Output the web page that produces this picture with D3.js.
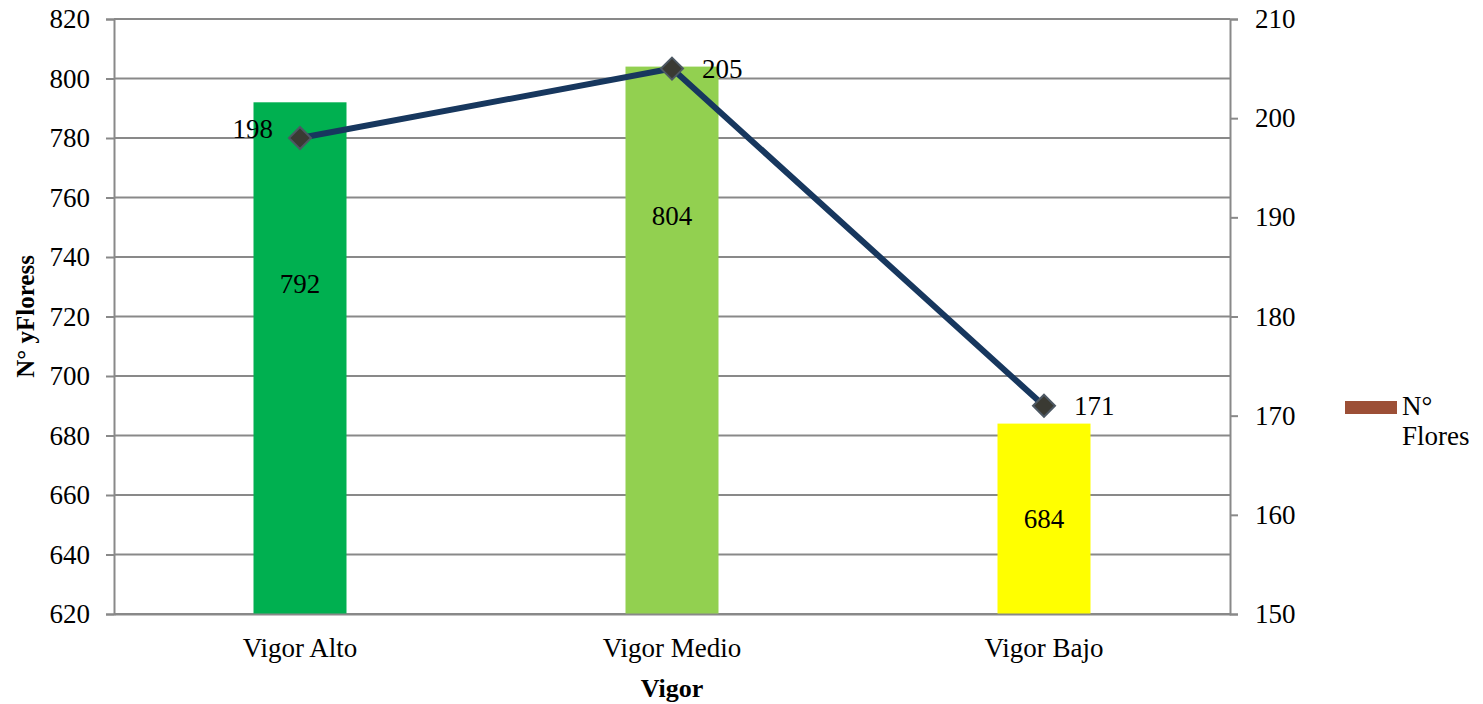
<!DOCTYPE html>
<html><head><meta charset="utf-8">
<script src="https://cdn.jsdelivr.net/npm/d3@7"></script>
<style>body{margin:0;background:#fff;} svg, svg text{font-family:"Liberation Serif","Times New Roman",serif !important;}</style>
</head><body>
<svg id="c" width="1483" height="704"></svg>
<script>
const categories = ["Vigor Alto", "Vigor Medio", "Vigor Bajo"];
const barValues = [792, 804, 684];
const barColors = ["#00B050", "#92D050", "#FFFF00"];
const barLabelAt = [731, 754, 652];
const lineValues = [198, 205, 171];
const lineLabelSide = ["left", "right", "right"];
const leftTicks = [620, 640, 660, 680, 700, 720, 740, 760, 780, 800, 820];
const rightTicks = [150, 160, 170, 180, 190, 200, 210];
const yTitle = "N° yFloress";
const xTitle = "Vigor";
const legendLines = ["N°", "Flores"];

const svg = d3.select("#c");
const L = 114, R = 1230, T = 19, B = 614;
const x = d3.scaleBand().domain(categories).range([L, R]);
const yL = d3.scaleLinear().domain([620, 820]).range([B, T]);
const yR = d3.scaleLinear().domain([150, 210]).range([B, T]);
const gray = "#898989", fs = 27, FF = "Liberation Serif";

svg.append("g").selectAll("line").data(leftTicks).join("line")
  .attr("x1", L).attr("x2", R).attr("y1", d => yL(d)).attr("y2", d => yL(d))
  .attr("stroke", gray).attr("stroke-width", 2);

const gl = svg.append("g").attr("transform", `translate(${L},0)`)
  .call(d3.axisLeft(yL).tickValues(leftTicks).tickSize(8).tickPadding(16));
gl.attr("font-family", FF);
gl.select(".domain").attr("stroke", gray).attr("stroke-width", 2);
gl.selectAll(".tick line").attr("stroke", gray).attr("stroke-width", 2);
gl.selectAll("text").style("font-family", FF).attr("font-size", fs).attr("fill", "#000");

const gr = svg.append("g").attr("transform", `translate(${R},0)`)
  .call(d3.axisRight(yR).tickValues(rightTicks).tickSize(8).tickPadding(17));
gr.attr("font-family", FF);
gr.select(".domain").attr("stroke", gray).attr("stroke-width", 2);
gr.selectAll(".tick line").attr("stroke", gray).attr("stroke-width", 2);
gr.selectAll("text").style("font-family", FF).attr("font-size", fs).attr("fill", "#000");

const bw = 93;
svg.append("g").selectAll("rect").data(barValues).join("rect")
  .attr("x", (d, i) => x(categories[i]) + x.bandwidth() / 2 - bw / 2)
  .attr("width", bw)
  .attr("y", d => yL(d)).attr("height", d => B - yL(d))
  .attr("fill", (d, i) => barColors[i]);

const gb = svg.append("g").attr("transform", `translate(0,${B})`)
  .call(d3.axisBottom(x).tickSize(0).tickPadding(24));
gb.attr("font-family", FF);
gb.select(".domain").attr("stroke", gray).attr("stroke-width", 2);
gb.selectAll("text").style("font-family", FF).attr("font-size", fs).attr("fill", "#000");

svg.append("g").selectAll("text").data(barValues).join("text")
  .attr("x", (d, i) => x(categories[i]) + x.bandwidth() / 2)
  .attr("y", (d, i) => yL(barLabelAt[i]))
  .attr("dy", "0.35em").attr("text-anchor", "middle")
  .style("font-family", FF).attr("font-size", fs).text(d => d);

const cx = i => x(categories[i]) + x.bandwidth() / 2;
svg.append("path").datum(lineValues)
  .attr("d", d3.line().x((d, i) => cx(i)).y(d => yR(d)))
  .attr("fill", "none").attr("stroke", "#17375E").attr("stroke-width", 6);

const s = 11;
svg.append("g").selectAll("path").data(lineValues).join("path")
  .attr("transform", (d, i) => `translate(${cx(i)},${yR(d)})`)
  .attr("d", `M0,${-s}L${s},0L0,${s}L${-s},0Z`)
  .attr("fill", "#3A3A33").attr("stroke", "#4D5863").attr("stroke-width", 2);

svg.append("g").selectAll("text").data(lineValues).join("text")
  .attr("x", (d, i) => cx(i) + (lineLabelSide[i] === "left" ? -27 : 30))
  .attr("y", d => yR(d))
  .attr("dy", (d, i) => lineLabelSide[i] === "left" ? "0" : "0.35em")
  .attr("text-anchor", (d, i) => lineLabelSide[i] === "left" ? "end" : "start")
  .style("font-family", FF).attr("font-size", fs).text(d => d);

svg.append("text").attr("transform", `translate(34,${(T + B) / 2}) rotate(-90)`)
  .attr("text-anchor", "middle").attr("font-weight", "bold").style("font-family", FF).attr("font-size", 25).text(yTitle);
svg.append("text").attr("x", (L + R) / 2).attr("y", 697)
  .attr("text-anchor", "middle").attr("font-weight", "bold").style("font-family", FF).attr("font-size", 26).text(xTitle);

svg.append("rect").attr("x", 1345).attr("y", 401).attr("width", 52).attr("height", 13).attr("fill", "#9C4F36");
svg.append("text").attr("x", 1402).attr("y", 415).style("font-family", FF).attr("font-size", fs)
  .selectAll("tspan").data(legendLines).join("tspan")
  .attr("x", 1402).attr("dy", (d, i) => i ? 30 : 0).text(d => d);
</script>
</body></html>
